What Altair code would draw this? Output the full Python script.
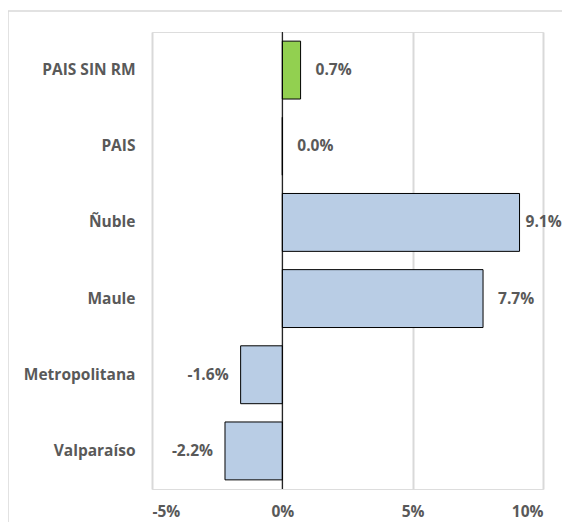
import altair as alt
import pandas as pd

categories = ["PAIS SIN RM", "PAIS", "Ñuble", "Maule", "Metropolitana", "Valparaíso"]
values = [0.7, 0.0, 9.1, 7.7, -1.6, -2.2]
colors = ["#92D050", "#B9CDE5", "#B9CDE5", "#B9CDE5", "#B9CDE5", "#B9CDE5"]
labels = ["0.7%", "0.0%", "9.1%", "7.7%", "-1.6%", "-2.2%"]
x_ticks = [-5, 0, 5, 10]

df = pd.DataFrame({"cat": categories, "val": values, "color": colors, "label": labels})

FONT = "Open Sans"
TXT = "#595959"

xscale = alt.Scale(domain=[-5, 10], nice=False, zero=False)
yscale = alt.Scale(domain=categories, paddingInner=0.24, paddingOuter=0.12)

base = alt.Chart(df)

bars = base.mark_bar(stroke="black", strokeWidth=1).encode(
    y=alt.Y("cat:N", scale=yscale, sort=categories, title=None,
            axis=alt.Axis(labelFont=FONT, labelFontSize=15.5, labelFontWeight="bold",
                          labelColor=TXT, ticks=False, domain=False, labelPadding=17,
                          grid=False)),
    x=alt.X("val:Q", scale=xscale, title=None,
            axis=alt.Axis(values=x_ticks, labelExpr="datum.value + '%'",
                          labelFont=FONT, labelFontSize=15.5, labelFontWeight="bold",
                          labelColor=TXT, ticks=False, domain=False, labelPadding=15,
                          grid=True, gridColor="#D9D9D9", gridWidth=2)),
    x2=alt.datum(0),
    fill=alt.Fill("color:N", scale=None),
)

def txt(filt, align, dx):
    return base.transform_filter(filt).mark_text(
        align=align, baseline="middle", dx=dx, font=FONT, fontSize=15.5,
        fontWeight="bold", color=TXT
    ).encode(y=alt.Y("cat:N", scale=yscale, sort=categories),
             x=alt.X("val:Q", scale=xscale), text="label:N")

# Excel pulls the label of the longest bar inward so it stays inside the chart area
text_pos = txt("datum.val >= 0 && datum.val < 9", "left", 15)
text_edge = txt("datum.val >= 9", "left", 6)
text_neg = txt("datum.val < 0", "right", -12)

zero = alt.Chart(pd.DataFrame({"z": [0]})).mark_rule(color="black", strokeWidth=1).encode(
    x=alt.X("z:Q", scale=xscale)
)

border = alt.Chart(pd.DataFrame({"a": [0]})).mark_rect(
    fill="transparent", stroke="#D9D9D9", strokeWidth=1.5
).encode(x=alt.value(-144), x2=alt.value(440), y=alt.value(-21), y2=alt.value(540))

chart = alt.layer(bars, zero, text_pos, text_edge, text_neg, border).properties(
    width=391, height=457,
    autosize=alt.AutoSizeParams(type="none"),
    padding={"left": 144, "top": 24, "right": 19, "bottom": 33},
).configure_view(stroke=None).configure(background="white")

chart.save("out.html", embed_options={"renderer": "svg", "actions": False})
